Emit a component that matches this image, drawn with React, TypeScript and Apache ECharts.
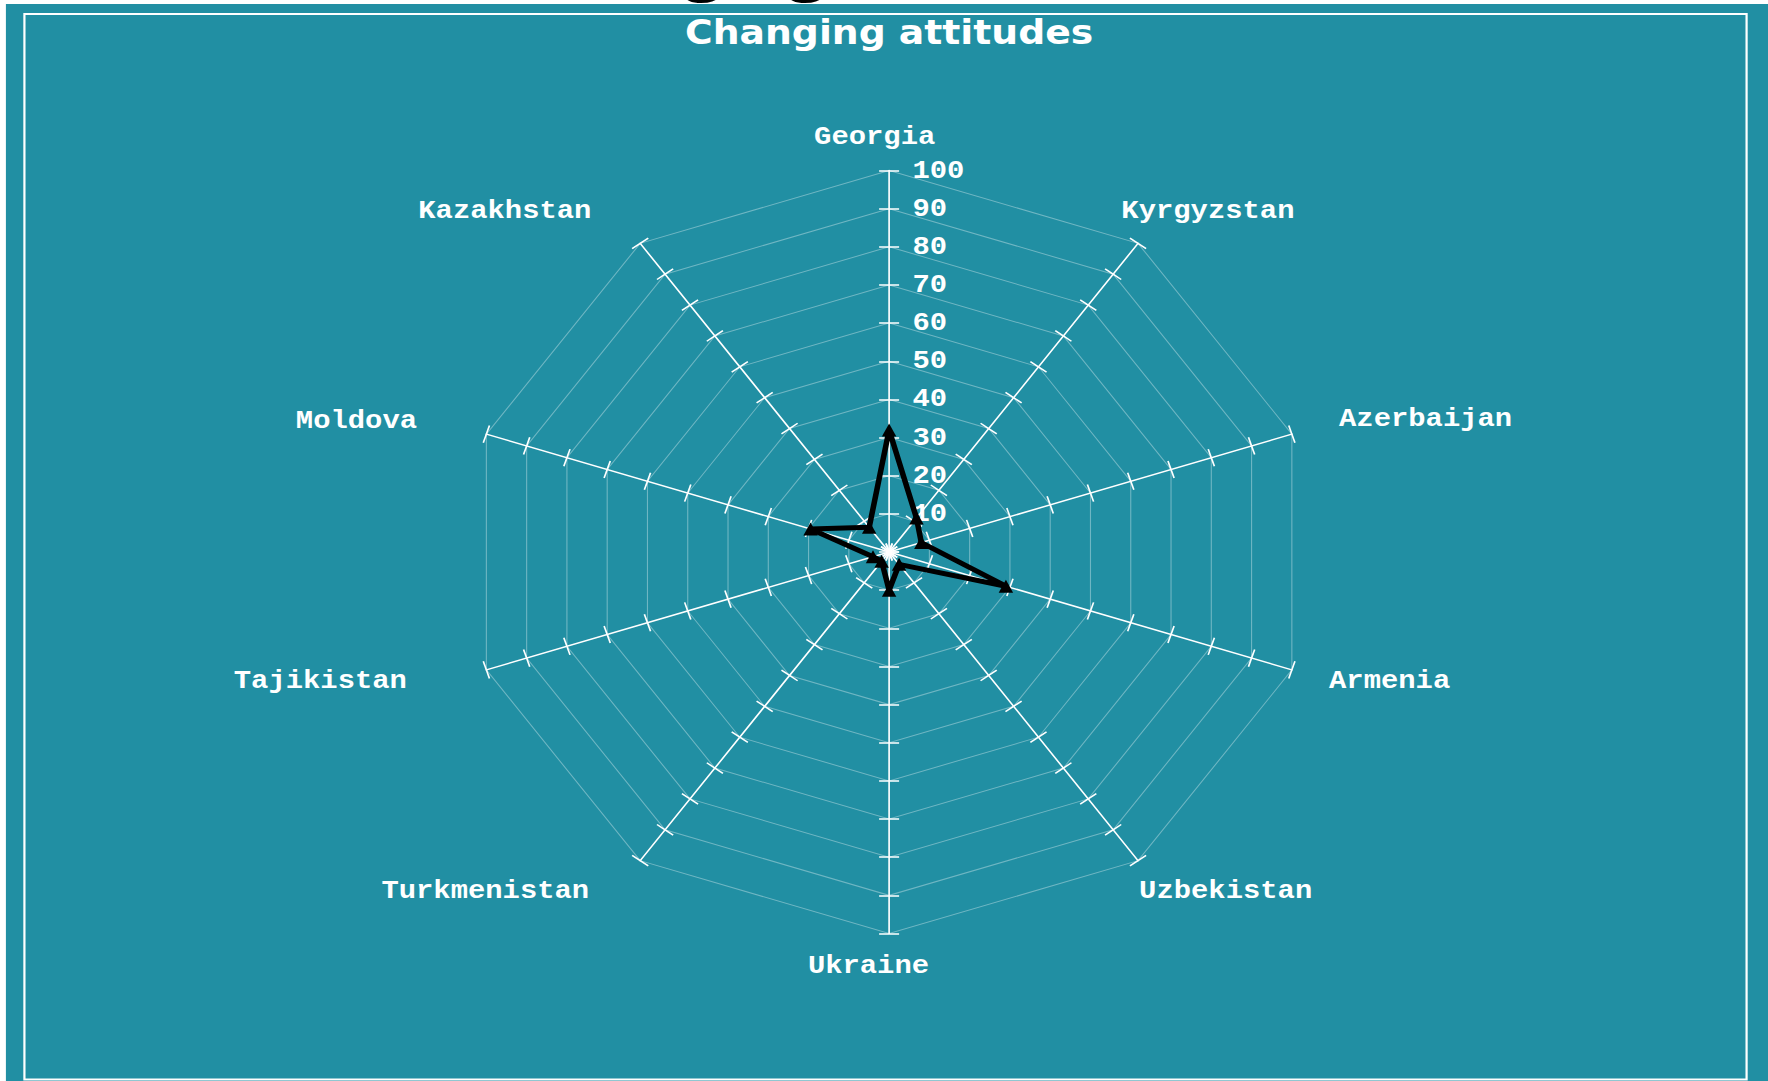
import React, { useEffect, useRef } from "react";
import * as echarts from "echarts";

// Categories listed clockwise from the top, as they appear in the chart
const categories = [
  "Georgia",
  "Kyrgyzstan",
  "Azerbaijan",
  "Armenia",
  "Uzbekistan",
  "Ukraine",
  "Turkmenistan",
  "Tajikistan",
  "Moldova",
  "Kazakhstan",
];
const values = [32, 11, 8, 29, 4, 10, 3, 4, 19.5, 8];
const axisMin = 0;
const axisMax = 100;
const splitCount = 10;
const chartTitle = "Changing attitudes";
const pageHeading = "Changing attitudes";
const seriesName = "Attitude";

// label placement styling (offsets from the end of each spoke)
const nameStyle: Record<string, { align: string; dx: number; dy: number }> = {
  Georgia: { align: "center", dx: -13, dy: -34 },
  Kyrgyzstan: { align: "left", dx: -15, dy: -32.5 },
  Azerbaijan: { align: "left", dx: 42.5, dy: -15 },
  Armenia: { align: "left", dx: 33.5, dy: 11 },
  Uzbekistan: { align: "left", dx: 1, dy: 30 },
  Ukraine: { align: "center", dx: -18.6, dy: 32 },
  Turkmenistan: { align: "right", dx: -46, dy: 30 },
  Tajikistan: { align: "right", dx: -71.6, dy: 11 },
  Moldova: { align: "right", dx: -62.5, dy: -13.5 },
  Kazakhstan: { align: "right", dx: -44, dy: -32.6 },
};

const LINE_H = 26;
const TEAL = "#218FA3";
const LABEL_FONT = "Liberation Mono";

function namePadding(cat: string) {
  const s = nameStyle[cat];
  let pl = 0;
  let pr = 0;
  if (s.align === "left") pl = s.dx;
  else if (s.align === "right") pr = -s.dx;
  else {
    if (s.dx < 0) pr = -2 * s.dx;
    else pl = 2 * s.dx;
  }
  if (s.dy < 0) {
    return {
      align: s.align,
      verticalAlign: "bottom",
      lineHeight: LINE_H,
      padding: [0, pr, -s.dy - LINE_H / 2, pl],
    };
  }
  return {
    align: s.align,
    verticalAlign: "top",
    lineHeight: LINE_H,
    padding: [s.dy - LINE_H / 2, pr, 0, pl],
  };
}

export default function App() {
  const ref = useRef<HTMLDivElement>(null);

  useEffect(() => {
    if (!ref.current) return;
    const chart = echarts.init(ref.current, undefined, { renderer: "svg" });

    // ECharts places radar indicators counter-clockwise; reorder so they read clockwise
    const order = [0, ...categories.slice(1).map((_, i) => categories.length - 1 - i)];
    const cats = order.map((i) => categories[i]);
    const vals = order.map((i) => values[i]);

    const indicatorMain = cats.map((c) => {
      const ind: any = {
        name: c,
        min: axisMin,
        max: axisMax,
        nameGap: 0,
        nameMoveOverlap: false,
        nameTextStyle: namePadding(c),
      };
      if (c === categories[0]) {
        ind.axisLabel = {
          show: true,
          showMinLabel: false,
          margin: -21,
          align: "left",
          color: "#fff",
          fontFamily: LABEL_FONT,
          fontWeight: "bold",
          fontSize: 26,
        };
      }
      return ind;
    });
    const indicatorTicks = cats.map((c) => ({ name: c, min: axisMin, max: axisMax }));

    const center = [796, 548];
    const radius = 381.5;

    chart.setOption({
      animation: false,
      backgroundColor: TEAL,
      title: {
        text: chartTitle,
        left: "center",
        top: 6,
        textStyle: {
          color: "#fff",
          fontFamily: "DejaVu Sans",
          fontWeight: "bold",
          fontSize: 34,
        },
      },
      graphic: [
        {
          type: "rect",
          silent: true,
          z: 0,
          shape: { x: 17, y: 10, width: 1551.5, height: 1065.5 },
          style: { fill: "none", stroke: "#ffffff", lineWidth: 2 },
        },
      ],
      radar: [
        {
          center,
          radius,
          startAngle: 90,
          splitNumber: splitCount,
          shape: "polygon",
          indicator: indicatorMain,
          axisNameGap: 0,
          nameMoveOverlap: false,
          axisName: {
            color: "#fff",
            fontFamily: LABEL_FONT,
            fontWeight: "bold",
            fontSize: 26,
          },
          axisLine: { lineStyle: { color: "#fff", width: 1.5 } },
          axisTick: { show: true, length: 9, lineStyle: { color: "#fff", width: 1.5 } },
          splitLine: { lineStyle: { color: "rgba(255,255,255,0.35)", width: 1 } },
          splitArea: { show: false },
          axisLabel: { show: false },
        },
        {
          center,
          radius,
          startAngle: 90,
          splitNumber: splitCount,
          shape: "polygon",
          indicator: indicatorTicks,
          axisName: { show: false },
          axisLine: { show: false },
          axisTick: {
            show: true,
            length: -9,
            lineStyle: { color: "#fff", width: 1.5 },
          },
          splitLine: { show: false },
          splitArea: { show: false },
          axisLabel: { show: false },
        },
      ],
      series: [
        {
          type: "radar",
          radarIndex: 0,
          z: 10,
          symbol: "triangle",
          symbolSize: 13,
          lineStyle: { color: "#000", width: 5 },
          itemStyle: { color: "#000" },
          data: [{ name: seriesName, value: vals }],
        },
      ],
    });

    return () => chart.dispose();
  }, []);

  return (
    <div
      style={{
        position: "fixed",
        left: 0,
        top: 0,
        width: 1593,
        height: 1081,
        overflow: "hidden",
        background: "#fff",
        transform: "scaleX(1.11)",
        transformOrigin: "0 0",
      }}
    >
      <div
        style={{
          position: "absolute",
          left: 452,
          top: -70,
          fontFamily: '"Liberation Serif", serif',
          fontWeight: "bold",
          fontSize: 70,
          lineHeight: "70px",
          color: "#000",
          whiteSpace: "nowrap",
        }}
      >
        {pageHeading}
      </div>
      <div
        ref={ref}
        style={{ position: "absolute", left: 4.5, top: 4, width: 1592, height: 1077 }}
      />
    </div>
  );
}
